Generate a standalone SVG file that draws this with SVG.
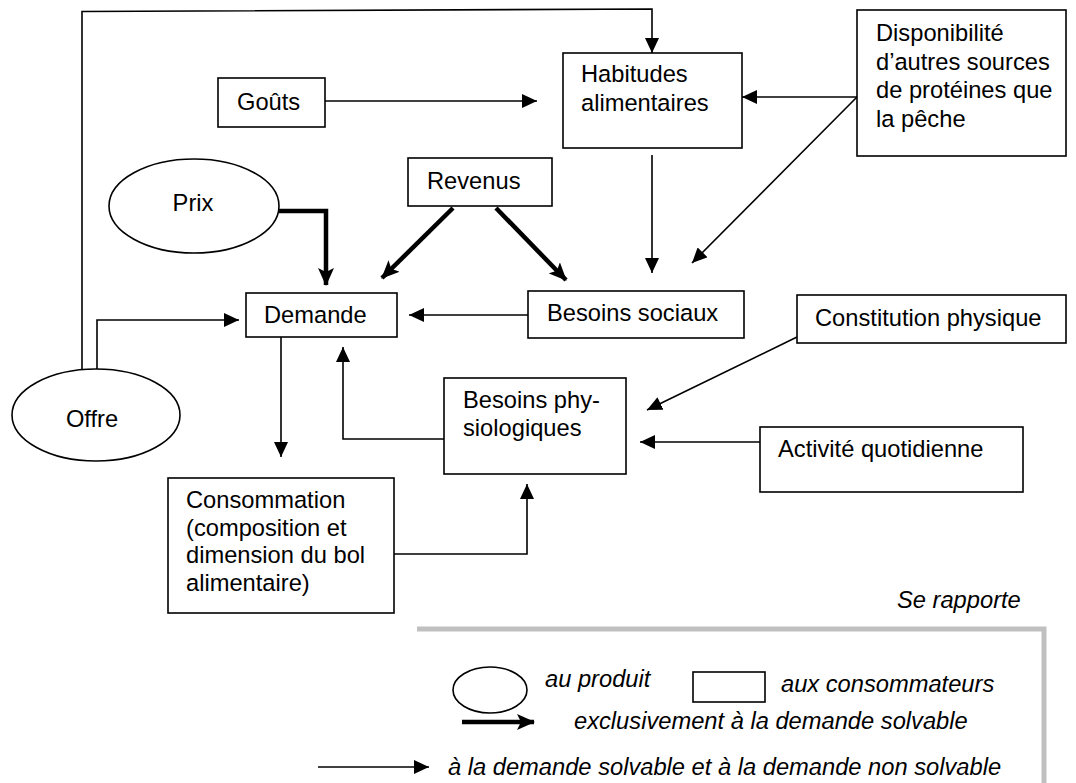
<svg xmlns="http://www.w3.org/2000/svg" width="1076" height="783" viewBox="0 0 1076 783">
<defs>
<marker id="ah" markerUnits="userSpaceOnUse" markerWidth="15" markerHeight="14" refX="15" refY="7" orient="auto">
<path d="M0,0 L15,7 L0,14 z" fill="#000"/>
</marker>
<marker id="ahb" markerUnits="userSpaceOnUse" markerWidth="18" markerHeight="16" refX="17" refY="8" orient="auto">
<path d="M0,0 L18,8 L0,16 L4,8 z" fill="#000"/>
</marker>
</defs>
<style>
.box{fill:#fff;stroke:#000;stroke-width:1.6}
.t{font-family:"Liberation Sans",Arial,sans-serif;font-size:23.7px;fill:#000}
.it{font-family:"Liberation Sans",Arial,sans-serif;font-size:23.7px;font-style:italic;fill:#000}
.c{fill:none;stroke:#000;stroke-width:1.6}
.cb{fill:none;stroke:#000;stroke-width:4.5}
</style>
<rect width="1076" height="783" fill="#fff"/>

<g id="connectors">
<polyline class="c" points="82,369 82,11.5 652,9 652,53" marker-end="url(#ah)"/>
<polyline class="c" points="97,369 97,320 239,320" marker-end="url(#ah)"/>
<line class="c" x1="322" y1="101" x2="537" y2="101" marker-end="url(#ah)"/>
<line class="c" x1="857" y1="97" x2="742" y2="97" marker-end="url(#ah)"/>
<line class="c" x1="857" y1="97" x2="692" y2="263" marker-end="url(#ah)"/>
<line class="c" x1="652" y1="155" x2="652" y2="273" marker-end="url(#ah)"/>
<polyline class="cb" points="279,211 326,211 326,285" marker-end="url(#ahb)"/>
<line class="cb" x1="453" y1="208" x2="382" y2="278" marker-end="url(#ahb)"/>
<line class="cb" x1="496" y1="208" x2="566" y2="280" marker-end="url(#ahb)"/>
<line class="c" x1="528" y1="315" x2="409" y2="315" marker-end="url(#ah)"/>
<line class="c" x1="281" y1="337" x2="281" y2="457" marker-end="url(#ah)"/>
<polyline class="c" points="444,439 343,439 343,347" marker-end="url(#ah)"/>
<line class="c" x1="797" y1="337" x2="647" y2="410" marker-end="url(#ah)"/>
<line class="c" x1="760" y1="442" x2="640" y2="442" marker-end="url(#ah)"/>
<polyline class="c" points="394,554 527,554 527,484" marker-end="url(#ah)"/>
</g>

<g id="gouts">
<rect class="box" x="218" y="78" width="107" height="49"/>
<text class="t" x="237" y="110">Goûts</text>
</g>
<g id="habitudes">
<rect class="box" x="563" y="53" width="179" height="95"/>
<text class="t" x="581" y="82">Habitudes</text>
<text class="t" x="581" y="111">alimentaires</text>
</g>
<g id="disponibilite">
<rect class="box" x="857" y="10" width="209" height="146"/>
<text class="t" x="876" y="41">Disponibilité</text>
<text class="t" x="876" y="69.5">d’autres sources</text>
<text class="t" x="876" y="98">de protéines que</text>
<text class="t" x="876" y="126.5">la pêche</text>
</g>
<g id="revenus">
<rect class="box" x="408" y="158" width="144" height="48"/>
<text class="t" x="427" y="189">Revenus</text>
</g>
<g id="prix">
<ellipse class="box" cx="194" cy="206" rx="85" ry="47"/>
<text class="t" x="193" y="211" text-anchor="middle">Prix</text>
</g>
<g id="demande">
<rect class="box" x="246" y="293" width="151" height="44"/>
<text class="t" x="264" y="323">Demande</text>
</g>
<g id="besoins-sociaux">
<rect class="box" x="528" y="291" width="216" height="47"/>
<text class="t" x="547" y="321">Besoins sociaux</text>
</g>
<g id="offre">
<ellipse class="box" cx="96" cy="415" rx="84" ry="46"/>
<text class="t" x="92" y="427" text-anchor="middle">Offre</text>
</g>
<g id="constitution">
<rect class="box" x="797" y="295" width="269" height="48"/>
<text class="t" x="815" y="326">Constitution physique</text>
</g>
<g id="besoins-physiologiques">
<rect class="box" x="444" y="378" width="182" height="96"/>
<text class="t" x="463" y="408">Besoins phy-</text>
<text class="t" x="463" y="436">siologiques</text>
</g>
<g id="activite">
<rect class="box" x="760" y="427" width="263" height="65"/>
<text class="t" x="778" y="457">Activité quotidienne</text>
</g>
<g id="consommation">
<rect class="box" x="168" y="478" width="226" height="135"/>
<text class="t" x="186" y="508">Consommation</text>
<text class="t" x="186" y="536">(composition et</text>
<text class="t" x="186" y="563">dimension du bol</text>
<text class="t" x="186" y="591">alimentaire)</text>
</g>

<g id="legend">
<text class="it" x="897" y="608">Se rapporte</text>
<path d="M417,629 H1044 V783" fill="none" stroke="#c0c0c0" stroke-width="5"/>
<ellipse class="box" cx="490" cy="690" rx="37" ry="23"/>
<text class="it" x="545" y="687">au produit</text>
<rect class="box" x="693" y="672" width="72" height="30"/>
<text class="it" x="781" y="692">aux consommateurs</text>
<line class="cb" x1="462" y1="722" x2="534" y2="722" marker-end="url(#ahb)"/>
<text class="it" x="574" y="729">exclusivement à la demande solvable</text>
<line class="c" x1="318" y1="767" x2="429" y2="767" marker-end="url(#ah)"/>
<text class="it" x="448" y="775">à la demande solvable et à la demande non solvable</text>
</g>
</svg>
